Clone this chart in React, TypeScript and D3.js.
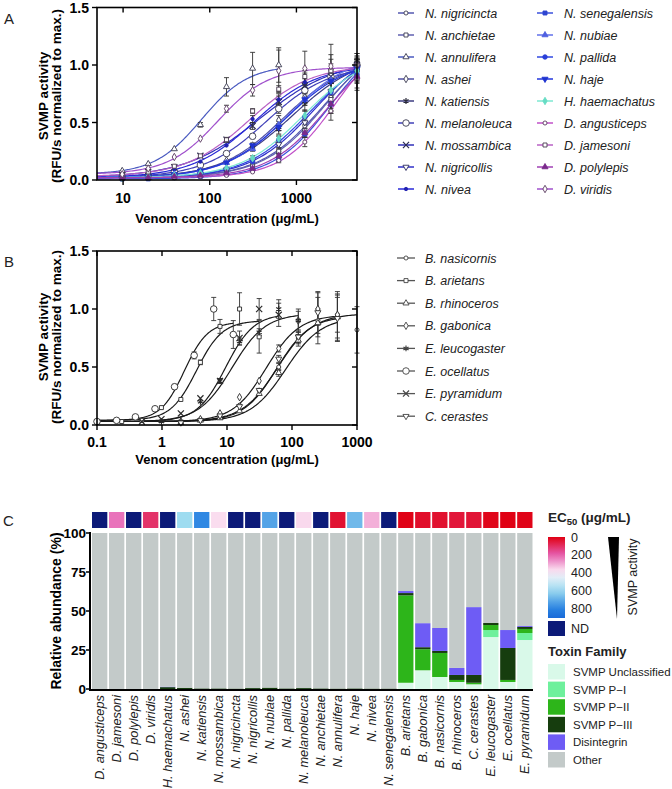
import React from "react";
import * as d3 from "d3";

// ---------------- Panel A data ----------------
const concA = [9.77, 19.5, 39, 78, 156, 312, 625, 1250, 2500, 5000];
const speciesA = [
  "N. nigricincta", "N. anchietae", "N. annulifera", "N. ashei", "N. katiensis",
  "N. melanoleuca", "N. mossambica", "N. nigricollis", "N. nivea",
  "N. senegalensis", "N. nubiae", "N. pallida", "N. haje", "H. haemachatus",
  "D. angusticeps", "D. jamesoni", "D. polylepis", "D. viridis",
];
const lineColorsA = [
  "#5558b0", "#6060b0", "#4a5ac0", "#5050a8", "#3c3c80", "#4040b8", "#3030b8", "#3030c8", "#2828d8",
  "#3a50dc", "#6070ea", "#3048e2", "#2236dc", "#7ee8d2", "#c050c8", "#b860c4", "#a040b4", "#a050cc",
];
const markerColorsA = [
  "#3a3a50", "#3a3a50", "#3a3a50", "#3a3a50", "#2a2a3a", "#3a3a50", "#2a2a50", "#2a2a60", "#2020b0",
  "#2f45d0", "#4f60e0", "#2a40d8", "#1f33d0", "#66dcc4", "#5a3a60", "#4a3a50", "#7a2a8a", "#5a3a60",
];
const markersA = [
  "circleS", "square", "triangle", "diamond", "asterisk", "circleL", "times", "triDown", "dotS",
  "squareF", "triangleF", "dotM", "triDownF", "diamondF", "circleS", "square", "triangleF", "diamond",
];
const ec50A = [2000, 2200, 80, 700, 900, 450, 380, 1600, 330, 2500, 800, 1400, 750, 1200, 2800, 280, 2200, 125];
const hillA = [1.2, 1.2, 1.6, 1.2, 1.1, 1.2, 1.0, 1.2, 1.2, 1.3, 1.2, 1.2, 1.2, 1.2, 1.4, 1.2, 1.3, 1.5];
const bottomA = [0.02, 0.02, 0.05, 0.02, 0.02, 0.02, 0.02, 0.02, 0.02, 0.01, 0.02, 0.02, 0.02, 0.02, 0.02, 0.03, 0.02, 0.05];
const topA = [1.25, 1.3, 1.0, 1.05, 1.1, 1.0, 1.05, 1.2, 1.0, 1.3, 1.1, 1.15, 1.05, 1.1, 1.3, 1.0, 1.2, 0.98];
const valuesA = [
  [0.02, 0.03, 0.04, 0.05, 0.08, 0.14, 0.25, 0.47, 0.72, 0.95],
  [0.01, 0.02, 0.03, 0.05, 0.07, 0.12, 0.25, 0.43, 0.7, 0.97],
  [0.08, 0.14, 0.27, 0.48, 0.81, 0.97, 1.0],
  [0.03, 0.04, 0.05, 0.09, 0.17, 0.3, 0.52, 0.72, 0.88, 1.0],
  [0.02, 0.04, 0.05, 0.08, 0.15, 0.28, 0.44, 0.68, 0.85, 0.97],
  [0.03, 0.04, 0.07, 0.13, 0.23, 0.38, 0.62, 0.78, 0.9, 1.0],
  [0.04, 0.07, 0.11, 0.21, 0.35, 0.47, 0.68, 0.82, 0.9, 1.0],
  [0.02, 0.03, 0.03, 0.05, 0.09, 0.17, 0.31, 0.5, 0.77, 0.98],
  [0.03, 0.05, 0.09, 0.16, 0.3, 0.53, 0.7, 0.85, 0.95, 1.0],
  [0.01, 0.01, 0.02, 0.03, 0.05, 0.09, 0.18, 0.4, 0.66, 0.92],
  [0.02, 0.03, 0.05, 0.08, 0.15, 0.27, 0.48, 0.7, 0.87, 1.0],
  [0.02, 0.03, 0.03, 0.06, 0.1, 0.16, 0.35, 0.55, 0.76, 0.96],
  [0.02, 0.03, 0.05, 0.08, 0.15, 0.3, 0.46, 0.7, 0.86, 0.97],
  [0.02, 0.03, 0.04, 0.06, 0.1, 0.19, 0.36, 0.56, 0.78, 0.95],
  [0.02, 0.02, 0.02, 0.03, 0.04, 0.07, 0.17, 0.33, 0.6, 0.88],
  [0.04, 0.07, 0.12, 0.21, 0.35, 0.6, 0.79, 0.9, 0.95, 1.0],
  [0.02, 0.02, 0.03, 0.04, 0.06, 0.1, 0.21, 0.41, 0.66, 0.9],
  [0.05, 0.1, 0.2, 0.36, 0.62, 0.78, 0.95, 0.97, 0.99, 1.0],
];
const errorsA = [
  [0, 0, 0, 0, 0.01, 0.01, 0.03, 0.06, 0.12, 0.1],
  [0, 0, 0, 0, 0.01, 0.01, 0.02, 0.05, 0.08, 0.08],
  [0.01, 0.01, 0.01, 0.02, 0.08, 0.14, 0.15],
  [0, 0, 0, 0.01, 0.01, 0.02, 0.04, 0.05, 0.3, 0.1],
  [0, 0, 0, 0.01, 0.01, 0.02, 0.04, 0.08, 0.08, 0.06],
  [0, 0, 0, 0.01, 0.01, 0.02, 0.04, 0.05, 0.06, 0.05],
  [0, 0, 0.01, 0.01, 0.02, 0.03, 0.05, 0.06, 0.06, 0.06],
  [0, 0, 0, 0, 0.01, 0.01, 0.03, 0.05, 0.1, 0.12],
  [0, 0, 0, 0.01, 0.01, 0.03, 0.05, 0.08, 0.1, 0.05],
  [0, 0, 0, 0, 0.01, 0.01, 0.02, 0.03, 0.06, 0.08],
  [0, 0, 0, 0.01, 0.01, 0.02, 0.03, 0.05, 0.08, 0.08],
  [0, 0, 0, 0, 0.01, 0.02, 0.03, 0.05, 0.08, 0.08],
  [0, 0, 0, 0.01, 0.01, 0.02, 0.03, 0.05, 0.08, 0.1],
  [0, 0, 0, 0, 0.01, 0.02, 0.03, 0.05, 0.06, 0.08],
  [0, 0, 0, 0, 0, 0.01, 0.02, 0.04, 0.08, 0.1],
  [0, 0, 0, 0.01, 0.02, 0.02, 0.03, 0.05, 0.06, 0.05],
  [0, 0, 0, 0, 0.01, 0.01, 0.02, 0.04, 0.08, 0.1],
  [0, 0, 0.01, 0.01, 0.03, 0.05, 0.18, 0.15, 0.1, 0.05],
];
const xTicksA = [10, 100, 1000];
const yTicks = [0, 0.5, 1.0, 1.5];

// ---------------- Panel B data ----------------
const speciesB = ["B. nasicornis", "B. arietans", "B. rhinoceros", "B. gabonica", "E. leucogaster", "E. ocellatus", "E. pyramidum", "C. cerastes"];
const markersB = ["circleS", "square", "triangle", "diamond", "asterisk", "circleL", "times", "triDown"];
const concB = [
  [1.95, 3.9, 7.8, 15.6, 31.25, 62.5, 125, 250, 500, 1000],
  [0.24, 0.49, 0.98, 1.95, 3.9, 7.8, 15.6, 31.25],
  [1.95, 3.9, 7.8, 15.6, 31.25, 62.5, 125, 250, 500],
  [1.95, 3.9, 7.8, 15.6, 31.25, 62.5, 125, 250, 500],
  [0.98, 1.95, 3.9, 7.8, 15.6, 31.25, 62.5, 125],
  [0.1, 0.2, 0.39, 0.78, 1.56, 3.125, 6.25, 12.5],
  [0.49, 0.98, 1.95, 3.9, 7.8, 15.6, 31.25, 62.5],
  [1.95, 3.9, 7.8, 15.6, 31.25, 62.5, 125, 250, 500],
];
const valuesB = [
  [0.03, 0.05, 0.09, 0.17, 0.3, 0.5, 0.75, 0.9, 0.95, 0.82],
  [0.03, 0.04, 0.15, 0.22, 0.54, 0.85, 1.0, 0.76],
  [0.02, 0.04, 0.06, 0.12, 0.27, 0.45, 0.73, 0.88, 0.93],
  [0.03, 0.05, 0.1, 0.24, 0.38, 0.66, 0.9, 1.0, 0.95],
  [0.03, 0.03, 0.2, 0.38, 0.72, 0.8, 1.0, 0.9],
  [0.03, 0.04, 0.07, 0.14, 0.33, 0.6, 1.0, 0.78],
  [0.03, 0.05, 0.1, 0.23, 0.38, 0.75, 1.0, 0.95],
  [0.02, 0.04, 0.08, 0.16, 0.3, 0.57, 0.76, 0.97, 0.92],
];
const errorsB = [
  [0, 0, 0, 0, 0.01, 0.03, 0.05, 0.2, 0.2, 0.2],
  [0, 0, 0, 0, 0.02, 0.06, 0.14, 0.14],
  [0, 0, 0, 0, 0.01, 0.03, 0.05, 0.12, 0.2],
  [0, 0, 0, 0, 0.01, 0.03, 0.08, 0.14, 0.15],
  [0, 0, 0.01, 0.02, 0.03, 0.03, 0.08, 0.1],
  [0, 0, 0, 0, 0.02, 0.03, 0.1, 0.12],
  [0, 0, 0, 0.01, 0.02, 0.06, 0.09, 0.1],
  [0, 0, 0, 0, 0.01, 0.03, 0.05, 0.18, 0.2],
];
const ec50B = [60, 3.4, 80, 40, 12, 2.2, 9.5, 58];
const hillB = [1.6, 2.2, 1.6, 1.7, 1.7, 2.4, 2.0, 1.7];
const bottomB = [0.03, 0.04, 0.03, 0.03, 0.03, 0.04, 0.03, 0.03];
const topB = [0.96, 0.9, 0.93, 0.95, 0.96, 0.89, 0.96, 0.94];
const xTicksB = [0.1, 1, 10, 100, 1000];

// ---------------- Panel C data ----------------
const categoriesC = [
  "D. angusticeps", "D. jamesoni", "D. polylepis", "D. viridis", "H. haemachatus", "N. ashei",
  "N. katiensis", "N. mossambica", "N. nigricincta", "N. nigricollis", "N. nubiae", "N. pallida",
  "N. melanoleuca", "N. anchietae", "N. annulifera", "N. haje", "N. nivea", "N. senegalensis",
  "B. arietans", "B. gabonica", "B. nasicornis", "B. rhinoceros", "C. cerastes", "E. leucogaster",
  "E. ocellatus", "E. pyramidum",
];
// null = ND (not determined)
const ec50C = [null, 230, null, 110, null, 600, 790, 370, null, null, 730, null, 365, null, 40, 680, 310, null,
  5, 30, 35, 50, 45, 10, 3, 8];
const svmpUnclassified = [0, 0, 0, 0, 0, 0, 0, 0, 0, 0, 0, 0, 0, 0, 0, 0, 0, 0, 4, 12, 7.7, 4.5, 3, 33.3, 4.5, 31.4];
const svmpPI = [0, 0, 0, 0, 0, 0, 0, 0, 0, 0, 0, 0, 0, 0, 0, 0, 0, 0, 0, 0, 0, 0, 0, 4.5, 0, 4.5];
const svmpPII = [0, 0, 0, 0, 0, 0, 0, 0, 0, 0, 0, 0, 0, 0, 0, 0, 0, 0, 56, 13.5, 15.4, 1.3, 1, 3.2, 1.3, 2.6];
const svmpPIII = [0, 0, 0, 0, 1.2, 0.8, 0.4, 0.4, 0.3, 0.6, 0.9, 0.4, 0.6, 0.4, 0.3, 0.4, 0.3, 0.3, 1.5, 1.3, 1.3, 3.2, 5, 1.3, 20.5, 1.3];
const disintegrin = [0, 0, 0, 0, 0.3, 0, 0, 0, 0, 0, 0, 0, 0, 0, 0, 0, 0, 0, 1.3, 15.4, 14.7, 4.5, 43.5, 0, 11.5, 0.6];
const toxinKeys = ["SVMP Unclassified", "SVMP P\u2212I", "SVMP P\u2212II", "SVMP P\u2212III", "Disintegrin", "Other"];
const toxinColors = ["#d9f9e9", "#6ef09c", "#2db51a", "#163d0e", "#6e5cf5", "#c3cac9"];
const yTicksC = [0, 25, 50, 75, 100];
const ecLegendTicks = [0, 200, 400, 600, 800];

const FONT = "'Liberation Sans', Arial, Helvetica, sans-serif";

function fourPL(x: number, b: number, t: number, ec: number, h: number) {
  return b + (t - b) / (1 + Math.pow(ec / x, h));
}

function Marker({ shape, x, y, color }: { shape: string; x: number; y: number; color: string }) {
  const filled = shape.endsWith("F") || shape.startsWith("dot");
  const base = shape.replace(/F$/, "");
  let type: any = d3.symbolCircle;
  let size = 14;
  let rot = 0;
  switch (base) {
    case "circleS": size = 13; break;
    case "circleL": size = 34; break;
    case "dotS": size = 9; break;
    case "dotM": size = 16; break;
    case "square": type = d3.symbolSquare; size = 16; break;
    case "triangle": type = d3.symbolTriangle; size = 16; break;
    case "triDown": type = d3.symbolTriangle; size = 16; rot = 180; break;
    case "diamond": type = d3.symbolDiamond; size = 16; break;
    case "asterisk": type = (d3 as any).symbolAsterisk || d3.symbolStar; size = 24; break;
    case "times": type = (d3 as any).symbolTimes || (d3 as any).symbolX || d3.symbolCross; size = 26; break;
  }
  const isStroke = base === "asterisk" || base === "times";
  const d = d3.symbol().type(type).size(size)() || "";
  return (
    <path
      d={d}
      transform={`translate(${x},${y}) rotate(${rot})`}
      fill={isStroke ? "none" : filled ? color : "#ffffff"}
      stroke={color}
      strokeWidth={isStroke ? 1.2 : 0.9}
    />
  );
}

function CurvePanel(props: {
  x: any; y: any; xTicks: number[]; fmt: (v: number) => string;
  x0: number; x1: number; y0: number; y1: number;
  names: string[]; concs: number[][]; values: number[][]; errors: number[][];
  ec: number[]; hill: number[]; bottom: number[]; top: number[];
  lineColors: string[]; markerColors: string[]; markers: string[];
  titleY: number; tickY: number; yTitleCenter: number;
}) {
  const { x, y, xTicks, fmt, x0, x1, y0, y1 } = props;
  const line = d3.line<[number, number]>();
  const dmin = x.domain()[0];
  return (
    <g>
      {props.names.map((n, i) => {
        const cs = props.concs[i];
        const last = cs[cs.length - 1];
        const l0 = Math.log10(dmin), l1 = Math.log10(last);
        const pts: [number, number][] = d3.range(0, 161).map((k) => {
          const c = Math.pow(10, l0 + ((l1 - l0) * k) / 160);
          return [x(c), y(fourPL(c, props.bottom[i], props.top[i], props.ec[i], props.hill[i]))];
        });
        return <path key={"c" + n} d={line(pts) || ""} fill="none" stroke={props.lineColors[i]} strokeWidth={1.2} />;
      })}
      {props.names.map((n, i) =>
        props.values[i].map((v, j) => {
          const e = props.errors[i][j];
          if (e < 0.015) return null;
          const cx = x(props.concs[i][j]);
          return (
            <g key={"e" + n + j} stroke="#333" strokeWidth={0.9}>
              <line x1={cx} x2={cx} y1={y(v - e)} y2={y(v + e)} />
              <line x1={cx - 2.5} x2={cx + 2.5} y1={y(v + e)} y2={y(v + e)} />
              <line x1={cx - 2.5} x2={cx + 2.5} y1={y(v - e)} y2={y(v - e)} />
            </g>
          );
        })
      )}
      {props.names.map((n, i) =>
        props.values[i].map((v, j) => (
          <Marker key={"m" + n + j} shape={props.markers[i]} x={x(props.concs[i][j])} y={y(v)} color={props.markerColors[i]} />
        ))
      )}
      <rect x={x0} y={y1} width={x1 - x0} height={y0 - y1} fill="none" stroke="#000" strokeWidth={1.6} />
      {xTicks.map((t) => (
        <g key={"xt" + t}>
          <line x1={x(t)} x2={x(t)} y1={y0} y2={y0 + 5} stroke="#000" strokeWidth={1.4} />
          <line x1={x(t)} x2={x(t)} y1={y1} y2={y1 + 5} stroke="#000" strokeWidth={1.4} />
          <text x={x(t)} y={props.tickY} textAnchor="middle" fontSize={14} fontWeight="bold">{fmt(t)}</text>
        </g>
      ))}
      {yTicks.map((t) => (
        <g key={"yt" + t}>
          <line x1={x0 - 5} x2={x0} y1={y(t)} y2={y(t)} stroke="#000" strokeWidth={1.4} />
          <line x1={x1 - 5} x2={x1} y1={y(t)} y2={y(t)} stroke="#000" strokeWidth={1.4} />
          <text x={x0 - 8} y={y(t) + 5} textAnchor="end" fontSize={14} fontWeight="bold">{t.toFixed(1)}</text>
        </g>
      ))}
      <text x={(x0 + x1) / 2} y={props.titleY} textAnchor="middle" fontSize={13} fontWeight="bold">Venom concentration (μg/mL)</text>
      <text transform={`translate(47.5,${props.yTitleCenter}) rotate(-90)`} textAnchor="middle" fontSize={13.5} fontWeight="bold">SVMP activity</text>
      <text transform={`translate(61,${props.yTitleCenter}) rotate(-90)`} textAnchor="middle" fontSize={13.5} fontWeight="bold">(RFU/s normalized to max.)</text>
    </g>
  );
}

export default function App() {
  const xA = d3.scaleLog().domain([5, 5000]).range([97, 357]);
  const yA = d3.scaleLinear().domain([0, 1.5]).range([180, 7.5]);
  const xB = d3.scaleLog().domain([0.1, 1000]).range([97, 357]);
  const yB = d3.scaleLinear().domain([0, 1.5]).range([425, 251]);

  const xC = d3.scaleBand<string>().domain(categoriesC).range([91.5, 533]).paddingInner(0.1).paddingOuter(0.03);
  const yC = d3.scaleLinear().domain([0, 100]).range([689, 533]);
  const ecColor = d3.scaleLinear<string>().domain([0, 200, 400, 600, 800, 912])
    .range(["#e00012", "#e65cb0", "#fdf4fa", "#9edcf0", "#2a84e2", "#1a6ad8"]);
  const ecY = d3.scaleLinear().domain([0, 912]).range([537, 618]);
  const ndColor = "#0c1a78";

  const rows = categoriesC.map((c, i) => {
    const s = svmpUnclassified[i] + svmpPI[i] + svmpPII[i] + svmpPIII[i] + disintegrin[i];
    return {
      cat: c,
      [toxinKeys[0]]: svmpUnclassified[i],
      [toxinKeys[1]]: svmpPI[i],
      [toxinKeys[2]]: svmpPII[i],
      [toxinKeys[3]]: svmpPIII[i],
      [toxinKeys[4]]: disintegrin[i],
      [toxinKeys[5]]: 100 - s,
    } as any;
  });
  const stacked = d3.stack<any>().keys(toxinKeys)(rows);

  const concAList = speciesA.map((_, i) => concA.slice(0, valuesA[i].length));
  const legA1x = 398, legA2x = 537;

  return (
    <svg width={672} height={789} viewBox="0 0 672 789" style={{ position: "absolute", left: 0, top: 0, background: "#fff" }} fontFamily={FONT}>
      <rect width={672} height={789} fill="#fff" />
      {/* ---------- Panel A ---------- */}
      <text x={4} y={24} fontSize={15} fill="#222">A</text>
      <CurvePanel
        x={xA} y={yA} xTicks={xTicksA} fmt={(v) => String(v)}
        x0={97} x1={357} y0={180} y1={7.5}
        names={speciesA} concs={concAList} values={valuesA} errors={errorsA}
        ec={ec50A} hill={hillA} bottom={bottomA} top={topA}
        lineColors={lineColorsA} markerColors={markerColorsA} markers={markersA}
        titleY={223} tickY={203} yTitleCenter={96}
      />
      {speciesA.map((n, i) => {
        const col = i < 9 ? 0 : 1;
        const r = i < 9 ? i : i - 9;
        const lx = col === 0 ? legA1x : legA2x;
        const cy = 13 + r * 22;
        return (
          <g key={"la" + n}>
            <line x1={lx} x2={lx + 16} y1={cy} y2={cy} stroke={lineColorsA[i]} strokeWidth={1.5} />
            <Marker shape={markersA[i]} x={lx + 8} y={cy} color={markerColorsA[i]} />
            <text x={lx + 27} y={cy + 4.5} fontSize={12.5} fontStyle="italic" fill="#222">{n}</text>
          </g>
        );
      })}

      {/* ---------- Panel B ---------- */}
      <text x={4} y={267} fontSize={15} fill="#222">B</text>
      <CurvePanel
        x={xB} y={yB} xTicks={xTicksB} fmt={(v) => (v < 1 ? v.toFixed(1) : String(v))}
        x0={97} x1={357} y0={425} y1={251}
        names={speciesB} concs={concB} values={valuesB} errors={errorsB}
        ec={ec50B} hill={hillB} bottom={bottomB} top={topB}
        lineColors={speciesB.map(() => "#1a1a1a")} markerColors={speciesB.map(() => "#2a2a2a")} markers={markersB}
        titleY={464} tickY={447} yTitleCenter={337}
      />
      {speciesB.map((n, i) => {
        const cy = 258 + i * 22.6;
        return (
          <g key={"lb" + n}>
            <line x1={397} x2={415} y1={cy} y2={cy} stroke="#555" strokeWidth={1.3} />
            <Marker shape={markersB[i]} x={406} y={cy} color="#444" />
            <text x={425} y={cy + 4.5} fontSize={12.5} fontStyle="italic" fill="#222">{n}</text>
          </g>
        );
      })}

      {/* ---------- Panel C ---------- */}
      <text x={3} y={526} fontSize={15} fill="#222">C</text>
      {categoriesC.map((c, i) => {
        const v = ec50C[i];
        return (
          <rect key={"h" + c} x={xC(c)} y={512} width={xC.bandwidth()} height={16}
            fill={v === null ? ndColor : ecColor(v as number)} />
        );
      })}
      {stacked.map((layer, k) => (
        <g key={"s" + k} fill={toxinColors[k]}>
          {layer.map((d: any) => {
            const h = yC(d[0]) - yC(d[1]);
            if (h <= 0) return null;
            return <rect key={d.data.cat} x={xC(d.data.cat)} y={yC(d[1])} width={xC.bandwidth()} height={h} />;
          })}
        </g>
      ))}
      <line x1={90} x2={90} y1={532} y2={690} stroke="#000" strokeWidth={2} />
      <line x1={89} x2={533} y1={690} y2={690} stroke="#000" strokeWidth={2} />
      {yTicksC.map((t) => (
        <g key={"yc" + t}>
          <line x1={86} x2={90} y1={yC(t)} y2={yC(t)} stroke="#000" strokeWidth={1.5} />
          <text x={86} y={yC(t) + 5} textAnchor="end" fontSize={13.5} fontWeight="bold">{t}</text>
        </g>
      ))}
      <text transform="translate(61,611) rotate(-90)" textAnchor="middle" fontSize={14} fontWeight="bold">Relative abundance (%)</text>
      {categoriesC.map((c) => (
        <text key={"xl" + c} transform={`translate(${(xC(c) as number) + xC.bandwidth() / 2 + 4.5},695) rotate(-90)`}
          textAnchor="end" fontSize={12.8} fontStyle="italic" fill="#222">{c}</text>
      ))}

      <defs>
        <linearGradient id="ecgrad" x1="0" y1="0" x2="0" y2="1">
          {d3.range(0, 11).map((k) => (
            <stop key={k} offset={`${k * 10}%`} stopColor={ecColor((912 * k) / 10)} />
          ))}
        </linearGradient>
      </defs>
      <text x={548} y={522} fontSize={13.5} fontWeight="bold" fill="#222">
        EC<tspan fontSize={9.5} dy={3}>50</tspan><tspan dy={-3}> (μg/mL)</tspan>
      </text>
      <rect x={548} y={537} width={17} height={81} fill="url(#ecgrad)" />
      <rect x={548} y={621} width={17} height={15} fill={ndColor} />
      {ecLegendTicks.map((t) => (
        <text key={"ec" + t} x={571} y={ecY(t) + 4.5} fontSize={12.5} fill="#222">{t}</text>
      ))}
      <text x={571} y={633} fontSize={12.5} fill="#222">ND</text>
      <polygon points="608,537 619,537 617,619" fill="#000" />
      <text transform="translate(637,577) rotate(-90)" textAnchor="middle" fontSize={12.5} fill="#222">SVMP activity</text>

      <text x={548} y={656} fontSize={13} fontWeight="bold" fill="#222">Toxin Family</text>
      {toxinKeys.map((k, i) => {
        const ty = 664 + i * 17.6;
        return (
          <g key={"tk" + k}>
            <rect x={548} y={ty} width={17} height={15.5} fill={toxinColors[i]} />
            <text x={573} y={ty + 12} fontSize={11.5} fill="#222">{k}</text>
          </g>
        );
      })}
    </svg>
  );
}
